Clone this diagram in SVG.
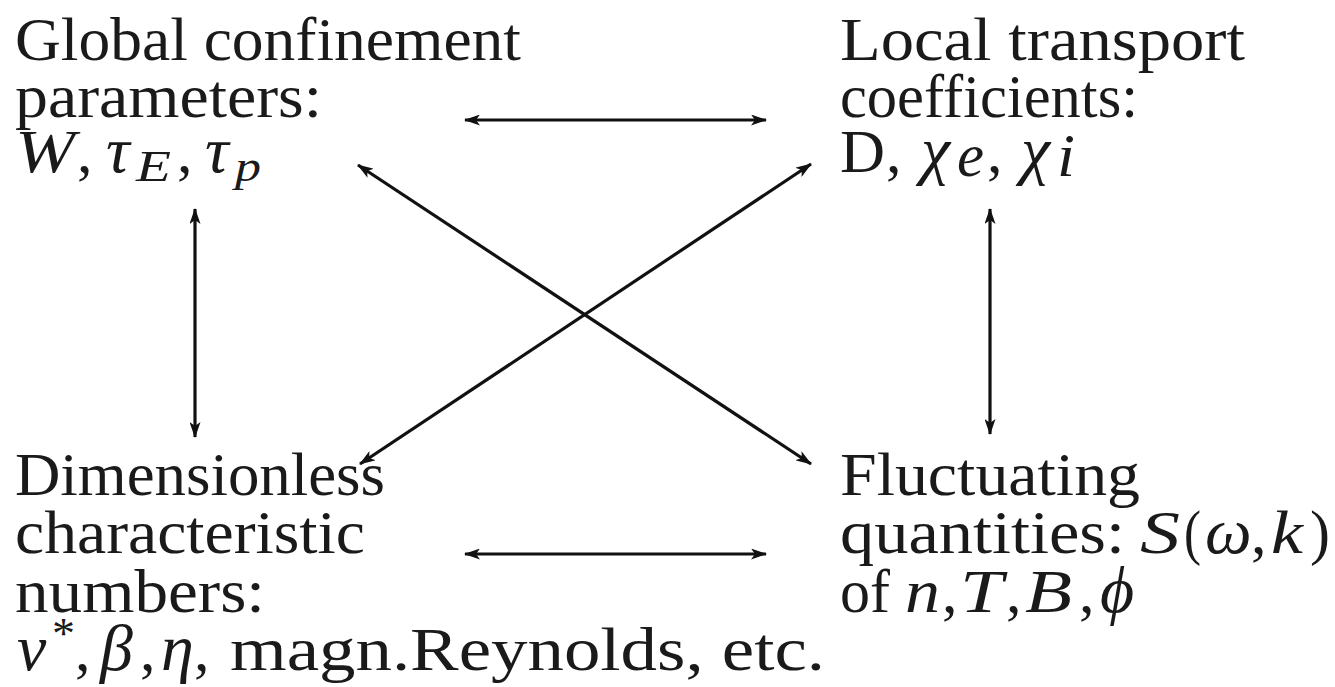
<svg xmlns="http://www.w3.org/2000/svg" width="1335" height="687" viewBox="0 0 1335 687">
<style>
.t{font-family:"Liberation Serif","Times New Roman",serif;font-size:62px;fill:#1a1a1a}
.i{font-style:italic}
.g{font-style:italic;font-size:66px}
.s{font-size:44px}
.c{stroke:#111;stroke-width:3.2;fill:none;marker-start:url(#ah);marker-end:url(#ah)}
</style>
<defs>
<marker id="ah" viewBox="0 0 16 11" refX="15" refY="5.5" markerWidth="16" markerHeight="11" markerUnits="userSpaceOnUse" orient="auto-start-reverse"><path d="M0,0 L16,5.5 L0,11 L4,5.5 z" fill="#111"/></marker>
</defs>
<rect width="1335" height="687" fill="#fff"/>
<g id="connectors">
<path class="c" d="M465,120 H766"/>
<path class="c" d="M465,554 H766"/>
<path class="c" d="M195,209 V437"/>
<path class="c" d="M990,209 V434"/>
<path class="c" d="M358,165 L811,464"/>
<path class="c" d="M811,164 L360,464"/>
</g>
<g id="global">
<text class="t" x="15" y="60" textLength="506" lengthAdjust="spacingAndGlyphs">Global confinement</text>
<text class="t" x="15" y="117" textLength="307" lengthAdjust="spacingAndGlyphs">parameters:</text>
<text class="t" y="172"><tspan class="i" x="15" textLength="60" lengthAdjust="spacingAndGlyphs">W</tspan><tspan x="77">,</tspan><tspan class="g" x="106">τ</tspan><tspan class="i s" x="136" dy="9" textLength="35" lengthAdjust="spacingAndGlyphs">E</tspan><tspan x="177" dy="-9">,</tspan><tspan class="g" x="205">τ</tspan><tspan class="i s" x="235" dy="9" textLength="26" lengthAdjust="spacingAndGlyphs">p</tspan></text>
</g>
<g id="local">
<text class="t" x="840" y="60" textLength="405" lengthAdjust="spacingAndGlyphs">Local transport</text>
<text class="t" x="840" y="117" textLength="298" lengthAdjust="spacingAndGlyphs">coefficients:</text>
<text class="t" y="172"><tspan x="840" textLength="45" lengthAdjust="spacingAndGlyphs">D</tspan><tspan x="886">,</tspan><tspan class="g" x="921">χ</tspan><tspan class="i" x="957" dy="4" textLength="27" lengthAdjust="spacingAndGlyphs">e</tspan><tspan x="987" dy="-4">,</tspan><tspan class="g" x="1021">χ</tspan><tspan class="i" x="1057" dy="4" textLength="18" lengthAdjust="spacingAndGlyphs">i</tspan></text>
</g>
<g id="dimensionless">
<text class="t" x="15" y="495" textLength="370" lengthAdjust="spacingAndGlyphs">Dimensionless</text>
<text class="t" x="15" y="553" textLength="350" lengthAdjust="spacingAndGlyphs">characteristic</text>
<text class="t" x="15" y="612" textLength="250" lengthAdjust="spacingAndGlyphs">numbers:</text>
<text class="t" y="670"><tspan class="g" x="17">ν</tspan><tspan class="s" x="52" dy="-22" textLength="23" lengthAdjust="spacingAndGlyphs">*</tspan><tspan x="75" dy="22">,</tspan><tspan class="g" x="100">β</tspan><tspan x="140">,</tspan><tspan class="g" x="161">η</tspan><tspan x="194">,</tspan><tspan x="230" textLength="595" lengthAdjust="spacingAndGlyphs">magn.Reynolds, etc.</tspan></text>
</g>
<g id="fluctuating">
<text class="t" x="840" y="495" textLength="300" lengthAdjust="spacingAndGlyphs">Fluctuating</text>
<text class="t" y="553"><tspan x="840" textLength="285" lengthAdjust="spacingAndGlyphs">quantities:</tspan><tspan class="i" x="1140" textLength="40" lengthAdjust="spacingAndGlyphs">S</tspan><tspan x="1184" textLength="17" lengthAdjust="spacingAndGlyphs">(</tspan><tspan class="g" x="1205">ω</tspan><tspan x="1251">,</tspan><tspan class="i" x="1271" textLength="32" lengthAdjust="spacingAndGlyphs">k</tspan><tspan x="1310" textLength="20" lengthAdjust="spacingAndGlyphs">)</tspan></text>
<text class="t" y="612"><tspan x="840" textLength="50" lengthAdjust="spacingAndGlyphs">of</tspan><tspan class="i" x="905" textLength="35" lengthAdjust="spacingAndGlyphs">n</tspan><tspan x="942">,</tspan><tspan class="i" x="960" textLength="43" lengthAdjust="spacingAndGlyphs">T</tspan><tspan x="1006">,</tspan><tspan class="i" x="1025" textLength="47" lengthAdjust="spacingAndGlyphs">B</tspan><tspan x="1079">,</tspan><tspan class="g" x="1100">ϕ</tspan></text>
</g>
</svg>
